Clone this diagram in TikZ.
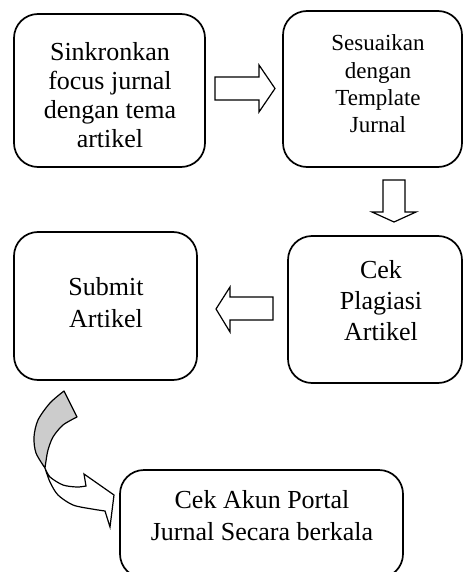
\documentclass[tikz,border=0pt]{standalone}
\usepackage{fontspec}
\setmainfont{Liberation Serif}
\begin{document}
\begin{tikzpicture}[x=1pt,y=-1pt,
  box/.style={draw, line width=1.7pt, rounded corners=24pt, inner sep=0pt},
  blockarrow/.style={draw, line width=1.2pt, line join=miter, fill=white},
  txt/.style={align=center, inner sep=0pt, anchor=base, font=\fontsize{26}{31}\selectfont}]
\useasboundingbox (0,0) rectangle (465,572);
\clip (0,0) rectangle (465,572);
% boxes
\node[box, minimum width=191pt, minimum height=153pt] (b1) at (109.5,90.5) {};
\node[box, minimum width=179pt, minimum height=156pt] (b2) at (372.5,89) {};
\node[box, minimum width=174pt, minimum height=147pt] (b3) at (375,309.5) {};
\node[box, minimum width=183pt, minimum height=148pt] (b4) at (105.5,306) {};
\node[box, minimum width=283pt, minimum height=108pt] (b5) at (261.5,524) {};
% texts (anchor=base is the baseline of the last line)
\node[txt, font=\fontsize{26}{29.2}\selectfont] (t1) at (110,148) {Sinkronkan\\focus jurnal\\dengan tema\\artikel};
\node[txt, font=\fontsize{23}{27.4}\selectfont] (t2) at (378,133) {Sesuaikan\\dengan\\Template\\Jurnal};
\node[txt] (t3) at (381,340) {Cek\\Plagiasi\\Artikel};
\node[txt, font=\fontsize{26}{32}\selectfont] (t4) at (106,327) {Submit\\Artikel};
\node[txt, font=\fontsize{26}{32}\selectfont] (t5) at (262,540) {Cek Akun Portal\\Jurnal Secara berkala};
% block arrows
\draw[blockarrow] (215,77) -- (259,77) -- (259,65) -- (275,88.5) -- (259,112) -- (259,100) -- (215,100) -- cycle;
\draw[blockarrow] (383,180) -- (405,180) -- (405,212) -- (416,212) -- (394,222) -- (372,212) -- (383,212) -- cycle;
\draw[blockarrow] (273,297) -- (230,297) -- (230,287) -- (216,309) -- (230,332) -- (230,320) -- (273,320) -- cycle;
% curved arrow: gray back side
\filldraw[line width=1.2pt, fill=gray!40, line join=round]
  (64,391) -- (77,417)
  -- plot[smooth] coordinates {(77,417) (63,425) (53,437) (48,450) (46,461) (45,468)}
  -- plot[smooth] coordinates {(45,468) (36,453) (34,437) (38,420) (50,403) (64,391)} -- cycle;
% curved arrow: white front side with head
\filldraw[line width=1.2pt, fill=white, line join=miter]
  plot[smooth] coordinates {(45,468) (50,482) (58,495) (73,505) (92,509) (105,511)}
  -- (110,527) -- (114,495) -- (84,474) -- (86,486)
  -- plot[smooth] coordinates {(86,486) (77,487) (63,485) (50,477) (45,468)} -- cycle;
\end{tikzpicture}
\end{document}
